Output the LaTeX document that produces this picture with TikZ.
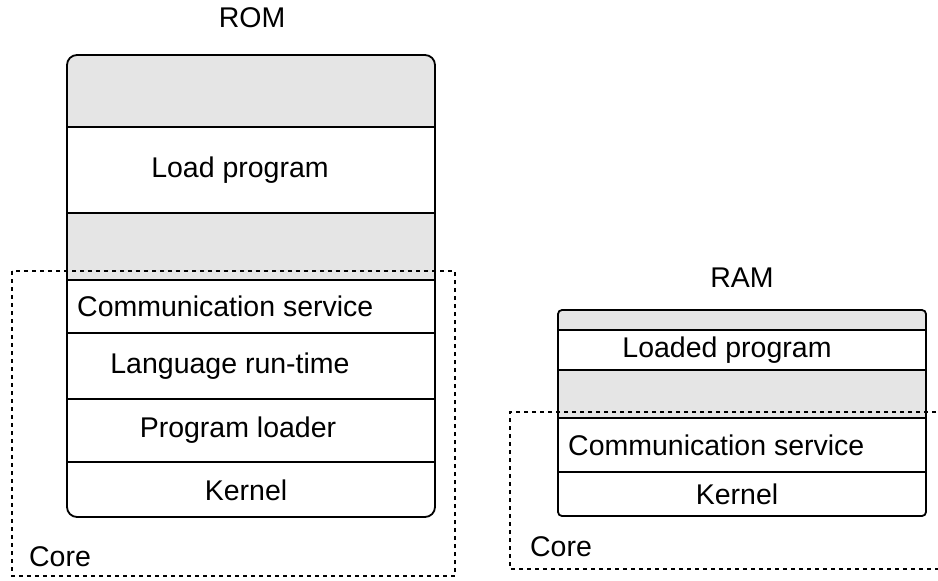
\documentclass[tikz,border=0pt]{standalone}
\usepackage{fontspec}
\setmainfont{Liberation Sans}
\begin{document}
\begin{tikzpicture}[x=1pt,y=-1pt,
  lbl/.style={inner sep=0pt,font=\fontsize{28.5}{33}\selectfont},
  shade/.style={fill=black!10},
  stack/.style={line width=1.8pt},
  core/.style={line width=1.4pt,dash pattern=on 4pt off 4pt}]
\useasboundingbox (0,0) rectangle (938,581);

% ---- ROM stack ----
\begin{scope}
  \clip[rounded corners=10pt] (67,55) rectangle (435,517);
  \fill[shade] (67,55) rectangle (435,127);
  \fill[shade] (67,213) rectangle (435,280);
\end{scope}
\draw[stack] (67,127) -- (435,127);
\draw[stack] (67,213) -- (435,213);
\draw[stack] (67,280) -- (435,280);
\draw[stack] (67,333) -- (435,333);
\draw[stack] (67,399) -- (435,399);
\draw[stack] (67,462) -- (435,462);
\draw[stack,rounded corners=10pt] (67,55) rectangle (435,517);

% ---- RAM stack ----
\begin{scope}
  \clip[rounded corners=4pt] (558,310) rectangle (926,516);
  \fill[shade] (558,310) rectangle (926,330);
  \fill[shade] (558,370) rectangle (926,418);
\end{scope}
\draw[stack] (558,330) -- (926,330);
\draw[stack] (558,370) -- (926,370);
\draw[stack] (558,418) -- (926,418);
\draw[stack] (558,472) -- (926,472);
\draw[stack,rounded corners=4pt] (558,310) rectangle (926,516);

% ---- core regions ----
\draw[core] (12,271) rectangle (455,576);
\draw[core] (944,412) -- (510,412) -- (510,569) -- (944,569);

% ---- labels ----
\node[lbl] (rom) at (252,18) {ROM};
\node[lbl] (load) at (240,170) {Load program};
\node[lbl,anchor=west] (comm1) at (77,306) {Communication service};
\node[lbl] (lang) at (230,366) {Language run-time};
\node[lbl] (loader) at (238,430) {Program loader};
\node[lbl] (kern1) at (246,490) {Kernel};
\node[lbl] (core1) at (60,557) {Core};

\node[lbl] (ram) at (742,278) {RAM};
\node[lbl] (loaded) at (727,350) {Loaded program};
\node[lbl,anchor=west] (comm2) at (568,445) {Communication service};
\node[lbl] (kern2) at (737,494) {Kernel};
\node[lbl] (core2) at (561,547) {Core};
\end{tikzpicture}
\end{document}
